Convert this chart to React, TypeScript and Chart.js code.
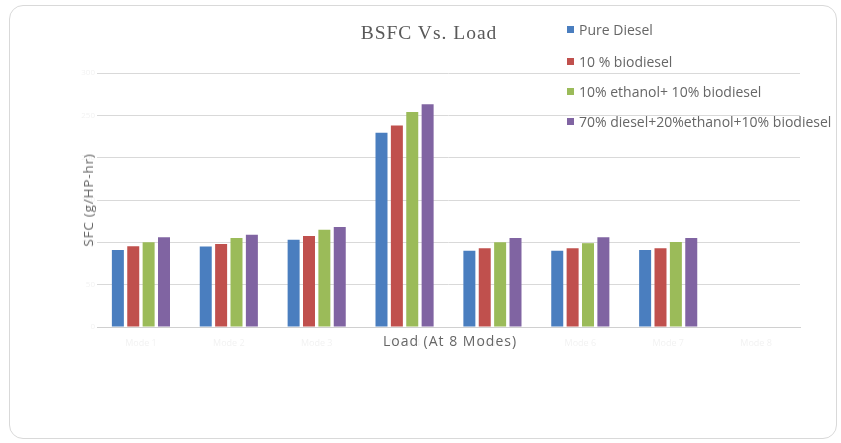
import React, { useEffect, useRef } from "react";
import { Chart, registerables } from "chart.js";

Chart.register(...registerables);

const categories = ["Mode 1", "Mode 2", "Mode 3", "Mode 4", "Mode 5", "Mode 6", "Mode 7", "Mode 8"];
const seriesNames = [
  "Pure Diesel",
  "10 % biodiesel",
  "10% ethanol+ 10% biodiesel",
  "70% diesel+20%ethanol+10% biodiesel",
];
const pureDiesel = [91, 95, 103, 229.5, 90, 90, 91, null];
const biodiesel10 = [95.5, 98, 107.5, 238, 93, 93, 93, null];
const ethanolBiodiesel = [100, 105, 115, 254, 100, 99, 100.5, null];
const dieselEthanolBiodiesel = [106, 109, 118, 263, 105, 106, 105, null];
const seriesColors = ["#4A7EBF", "#C0504D", "#9BBB59", "#8064A2"];
const yMin = 0;
const yMax = 300;
const yStep = 50;

const chartTitle = "BSFC Vs. Load";
const xTitle = "Load (At 8 Modes)";
const yTitle = "SFC (g/HP-hr)";

export default function App() {
  const canvasRef = useRef<HTMLCanvasElement | null>(null);

  useEffect(() => {
    if (!canvasRef.current) return;
    const seriesData = [pureDiesel, biodiesel10, ethanolBiodiesel, dieselEthanolBiodiesel];
    const chart = new Chart(canvasRef.current, {
      type: "bar",
      data: {
        labels: categories,
        datasets: seriesNames.map((name, i) => ({
          label: name,
          data: seriesData[i],
          backgroundColor: seriesColors[i],
          borderWidth: 0,
          categoryPercentage: 0.7,
          barPercentage: 0.78,
        })),
      },
      options: {
        animation: false,
        responsive: false,
        maintainAspectRatio: false,
        layout: { padding: { left: 77, right: 41, top: 73, bottom: 90 } },
        plugins: {
          legend: { display: false },
          title: { display: false },
          tooltip: { enabled: false },
        },
        scales: {
          x: {
            grid: { display: false },
            border: { display: true, color: "#d0d0d0", width: 1 },
            ticks: { display: true, color: "#f2f2f2", font: { family: "Open Sans", size: 9 } },
            title: { display: false },
            afterFit: (scale: any) => {
              scale.height = 26;
            },
          },
          y: {
            min: yMin,
            max: yMax,
            ticks: {
              stepSize: yStep,
              color: "#f2f2f2",
              font: { family: "Open Sans", size: 8 },
              padding: 2,
            },
            grid: { color: "#d9d9d9", drawTicks: false, lineWidth: 1 },
            border: { display: false },
            title: { display: false },
            afterFit: (scale: any) => {
              scale.width = 20;
            },
          },
        },
      },
    });
    return () => chart.destroy();
  }, []);

  const legendTops = [29, 61, 91, 121];

  return (
    <div
      style={{
        position: "fixed",
        left: 0,
        top: 0,
        width: 841,
        height: 443,
        background: "#ffffff",
        overflow: "hidden",
      }}
    >
      <div
        style={{
          position: "absolute",
          left: 9,
          top: 5,
          width: 828,
          height: 434,
          border: "1px solid #d9d9d9",
          borderRadius: 14,
          boxSizing: "border-box",
        }}
      />
      <canvas ref={canvasRef} width={841} height={443} style={{ position: "absolute", left: 0, top: 0 }} />
      <div
        style={{
          position: "absolute",
          left: 429,
          top: 33,
          transform: "translate(-50%, -50%)",
          fontFamily: "'Liberation Serif', serif",
          fontSize: 19.5,
          letterSpacing: "1px",
          lineHeight: "24px",
          color: "#595959",
          whiteSpace: "nowrap",
        }}
      >
        {chartTitle}
      </div>
      <div
        style={{
          position: "absolute",
          left: 450,
          top: 341,
          transform: "translate(-50%, -50%)",
          fontFamily: "'Open Sans', sans-serif",
          fontSize: 14,
          letterSpacing: "1px",
          lineHeight: "18px",
          color: "#666666",
          whiteSpace: "nowrap",
        }}
      >
        {xTitle}
      </div>
      <div
        style={{
          position: "absolute",
          left: 88,
          top: 200,
          transform: "translate(-50%, -50%) rotate(-90deg)",
          fontFamily: "'Open Sans', sans-serif",
          fontSize: 13.5,
          letterSpacing: "0.8px",
          lineHeight: "16px",
          color: "#666666",
          whiteSpace: "nowrap",
        }}
      >
        {yTitle}
      </div>
      {seriesNames.map((name, i) => (
        <div
          key={name}
          style={{
            position: "absolute",
            left: 567,
            top: legendTops[i] - 9,
            height: 18,
            display: "flex",
            alignItems: "center",
            fontFamily: "'Open Sans', sans-serif",
            fontSize: 14,
            color: "#666666",
            whiteSpace: "nowrap",
          }}
        >
          <span
            style={{
              display: "inline-block",
              width: 7,
              height: 7,
              background: seriesColors[i],
              marginRight: 5,
            }}
          />
          <span>{name}</span>
        </div>
      ))}
    </div>
  );
}
